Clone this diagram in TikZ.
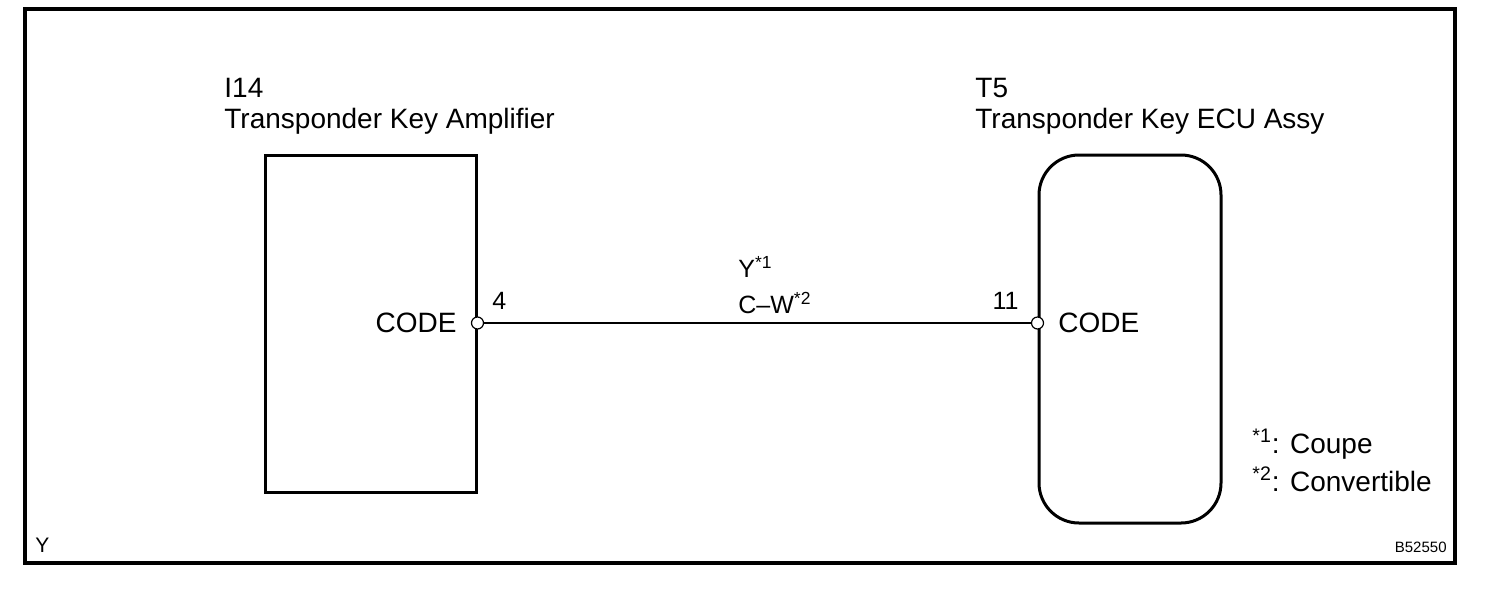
\documentclass[tikz,border=0pt]{standalone}
\usepackage{fontspec}
\setmainfont{Liberation Sans}
\usetikzlibrary{positioning}

\begin{document}
\begin{tikzpicture}[x=0.5pt,y=-0.5pt,
  lbl/.style={inner sep=0pt,anchor=base west,font=\fontsize{14}{16}\selectfont},
  small/.style={inner sep=0pt,font=\fontsize{12.5}{14}\selectfont},
  unit/.style={draw,line width=1.5pt,inner sep=0pt},
  term/.style={circle,draw,fill=white,line width=0.6pt,inner sep=0pt,minimum size=6pt}]
\useasboundingbox (0,0) rectangle (1504,590);
\draw[line width=2pt] (25,9) rectangle (1455,563);
\node[unit,minimum width=105.5pt,minimum height=168.5pt] (amp) at (370.5,323.5) {};
\node[unit,rounded corners=20pt,minimum width=91pt,minimum height=184pt] (ecu) at (1130,339) {};
\node[lbl] (ampid) at (224,97) {I14};
\node[lbl] (ampname) at (224,128) {Transponder Key Amplifier};
\node[lbl] (ecuid) at (975,97) {T5};
\node[lbl] (ecuname) at (975,128) {Transponder Key ECU Assy};
\coordinate (wy) at (0,323);
\draw[line width=0.6pt] (amp.east |- wy) -- (ecu.west |- wy);
\node[term] (p4) at (amp.east |- wy) {};
\node[term] (p11) at (ecu.west |- wy) {};
\node[lbl,anchor=base east] (code1) at (457,332) {CODE};
\node[lbl] (code2) at (1058,332) {CODE};
\node[small,anchor=base west] (n4) at (492,309) {4};
\node[small,anchor=base east] (n11) at (1019,309) {11};
\node[small,anchor=base west] (wc1) at (738,277) {Y\textsuperscript{*1}};
\node[small,anchor=base west] (wc2) at (738,313) {C--W\textsuperscript{*2}};
\node[lbl] (note1) at (1252,453) {\textsuperscript{*1}: Coupe};
\node[lbl] (note2) at (1252,491) {\textsuperscript{*2}: Convertible};
\node[inner sep=0pt,anchor=base west,font=\fontsize{10.5}{12}\selectfont] (code) at (35,552) {Y};
\node[inner sep=0pt,anchor=base east,font=\fontsize{7.5}{9}\selectfont] (fig) at (1447,552) {B52550};
\end{tikzpicture}
\end{document}
